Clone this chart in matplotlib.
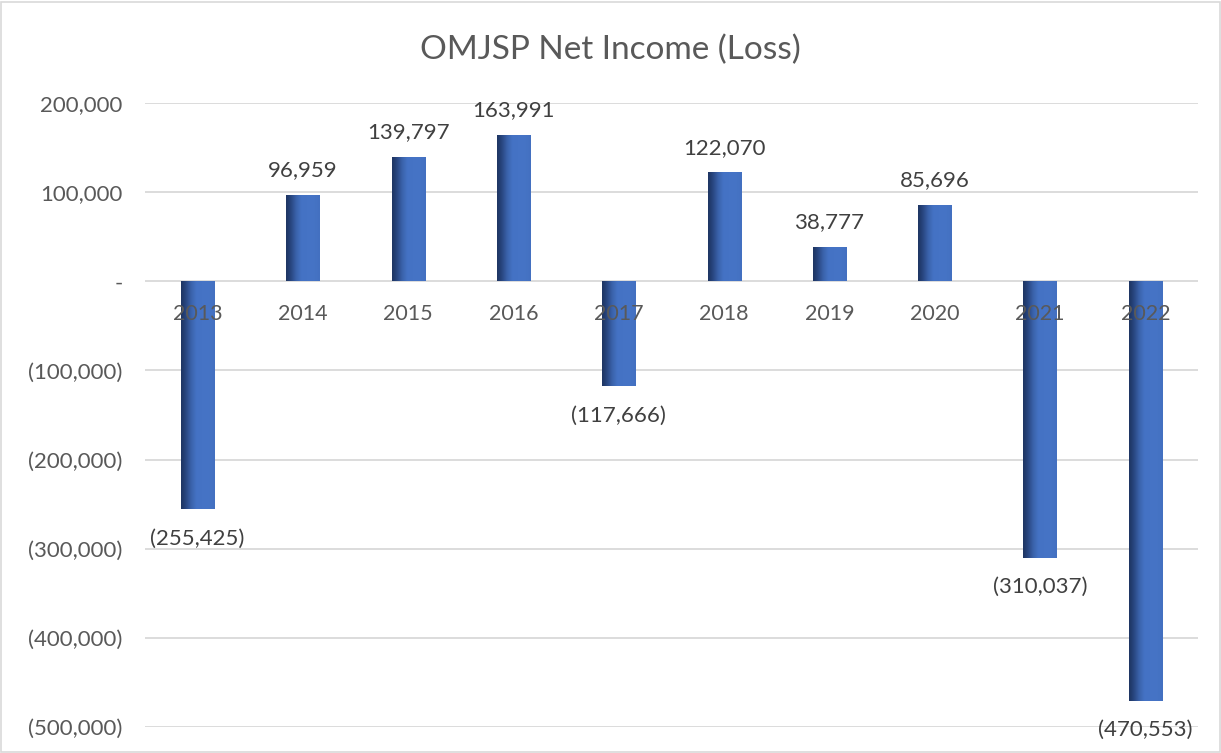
import matplotlib
matplotlib.use("Agg")
import matplotlib.pyplot as plt
import numpy as np
from matplotlib.colors import LinearSegmentedColormap
from matplotlib.patches import Rectangle
from matplotlib.ticker import FuncFormatter
import matplotlib.transforms as mtransforms

years = ["2013", "2014", "2015", "2016", "2017", "2018", "2019", "2020", "2021", "2022"]
net_income = [-255425, 96959, 139797, 163991, -117666, 122070, 38777, 85696, -310037, -470553]
y_ticks = [200000, 100000, 0, -100000, -200000, -300000, -400000, -500000]
title = "OMJSP Net Income (Loss)"

plt.rcParams['font.family'] = ['Lato', 'DejaVu Sans']

fig = plt.figure(figsize=(12.21, 7.53), dpi=100)
ax = fig.add_axes([145/1221, 1-727/753, (1198-145)/1221, (727-103)/753])

def fmt(v):
    if v == 0:
        return "-"
    if v < 0:
        return "({:,})".format(-int(v))
    return "{:,}".format(int(v))

x = np.arange(len(years))
bars = ax.bar(x, net_income, width=0.315, color='none', edgecolor='none', zorder=2)

cmap = LinearSegmentedColormap.from_list(
    "barg", [(0.0, "#1E3561"), (0.12, "#26427A"), (0.3, "#3A62AA"),
             (0.45, "#4472C4"), (0.8, "#4674C6"), (1.0, "#4370C0")])
grad = np.linspace(0, 1, 256).reshape(1, -1)
for b in bars:
    x0, y0 = b.get_x(), b.get_y()
    w, h = b.get_width(), b.get_height()
    im = ax.imshow(grad, cmap=cmap, aspect='auto', interpolation='bicubic',
                   extent=[x0, x0 + w, min(y0, y0 + h), max(y0, y0 + h)], zorder=2)
    im.set_clip_path(b)

ax.set_xlim(-0.5, len(years) - 0.5)
ax.set_ylim(-500000, 200000)
ax.set_yticks(y_ticks)
ax.yaxis.set_major_formatter(FuncFormatter(lambda v, p: fmt(v)))
ax.tick_params(axis='y', length=0, labelsize=16, labelcolor='#595959', pad=16)
ax.set_xticks([])
ax.grid(axis='y', color='#D9D9D9', linewidth=1.3)
ax.set_axisbelow(True)
for s in ax.spines.values():
    s.set_visible(False)

# category labels under zero line (drawn over bars)
trans = mtransforms.offset_copy(ax.transData, fig=fig, x=0, y=-33, units='dots')
for i, yr in enumerate(years):
    ax.text(i, 0, yr, transform=trans, ha='center', va='center', fontsize=15.5,
            color='#595959', zorder=5)

# data labels
for i, v in enumerate(net_income):
    if v >= 0:
        ax.annotate(fmt(v), (i, v), xytext=(0, 10.5), textcoords='offset points',
                    ha='center', va='bottom', fontsize=16, color='#404040')
    else:
        ax.annotate(fmt(v), (i, v), xytext=(0, -14), textcoords='offset points',
                    ha='center', va='top', fontsize=16, color='#404040')

fig.text(0.5, 1 - 50/753, title, ha='center', va='center', fontsize=24, color='#595959')
fig.patches.append(Rectangle((0.001, 0.001), 0.998, 0.997, transform=fig.transFigure,
                             fill=False, edgecolor='#D9D9D9', linewidth=1.2))

fig.savefig("out.png", dpi=100)
